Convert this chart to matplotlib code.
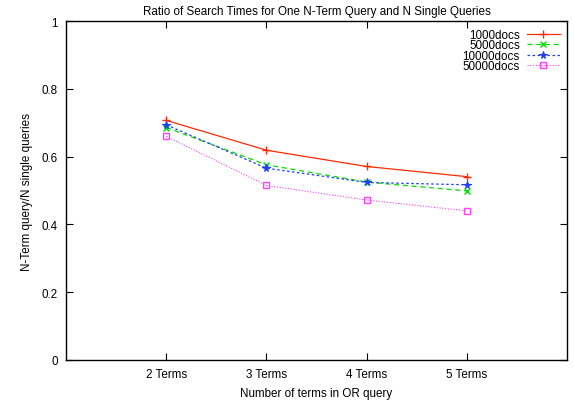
import numpy as np
import matplotlib
matplotlib.use("Agg")
import matplotlib.pyplot as plt

plt.rcParams['font.family'] = ['Liberation Sans', 'DejaVu Sans']

categories = ["2 Terms", "3 Terms", "4 Terms", "5 Terms"]
docs_1000 = [0.707, 0.619, 0.571, 0.541]
docs_5000 = [0.686, 0.576, 0.525, 0.499]
docs_10000 = [0.694, 0.566, 0.524, 0.517]
docs_50000 = [0.660, 0.515, 0.472, 0.440]

x = np.arange(2, 2 + len(categories))
fs = 8.4

fig = plt.figure(figsize=(5.74, 4.02), dpi=100)
ax = fig.add_axes([0.115, 0.102, 0.873, 0.843])

ax.plot(x, docs_1000, color='#ff2a00', ls='-', lw=0.9, marker='+',
        ms=6, mew=1.0, label='1000docs')
ax.plot(x, docs_5000, color='#00dd00', ls=(0, (4, 3)), lw=0.9, marker='x',
        ms=5, mew=1.0, label='5000docs')
ax.plot(x, docs_10000, color='#1f3cff', ls=(0, (2, 2)), lw=0.9, marker='*',
        ms=5.5, mew=0.8, label='10000docs')
ax.plot(x, docs_50000, color='#ff40ff', ls=(0, (1, 1.5)), lw=0.8, marker='s',
        ms=5, mew=1.0, mfc='none', label='50000docs')

ax.set_xlim(1, 6)
ax.set_ylim(0, 1)
ax.set_xticks(x)
ax.set_xticklabels(categories)
ax.set_yticks([0, 0.2, 0.4, 0.6, 0.8, 1])
ax.set_yticklabels(['0', '0.2', '0.4', '0.6', '0.8', '1'])
ax.tick_params(direction='in', length=5, width=0.8, labelsize=fs,
               top=True, right=True, pad=6)
for s in ax.spines.values():
    s.set_linewidth(1.0)

ax.set_xlabel("Number of terms in OR query", fontsize=fs, labelpad=5)
ax.set_ylabel("N-Term query/N single queries", fontsize=fs, labelpad=6)
ax.set_title("Ratio of Search Times for One N-Term Query and N Single Queries",
             fontsize=fs, pad=5)

leg = ax.legend(loc='upper right', frameon=False, fontsize=fs, markerfirst=False,
                handlelength=2.8, labelspacing=-0.12, borderaxespad=0.45,
                handletextpad=0.6, borderpad=0.2)
for t in leg.get_texts():
    t.set_ha('right')

fig.savefig("out.png", dpi=100)
